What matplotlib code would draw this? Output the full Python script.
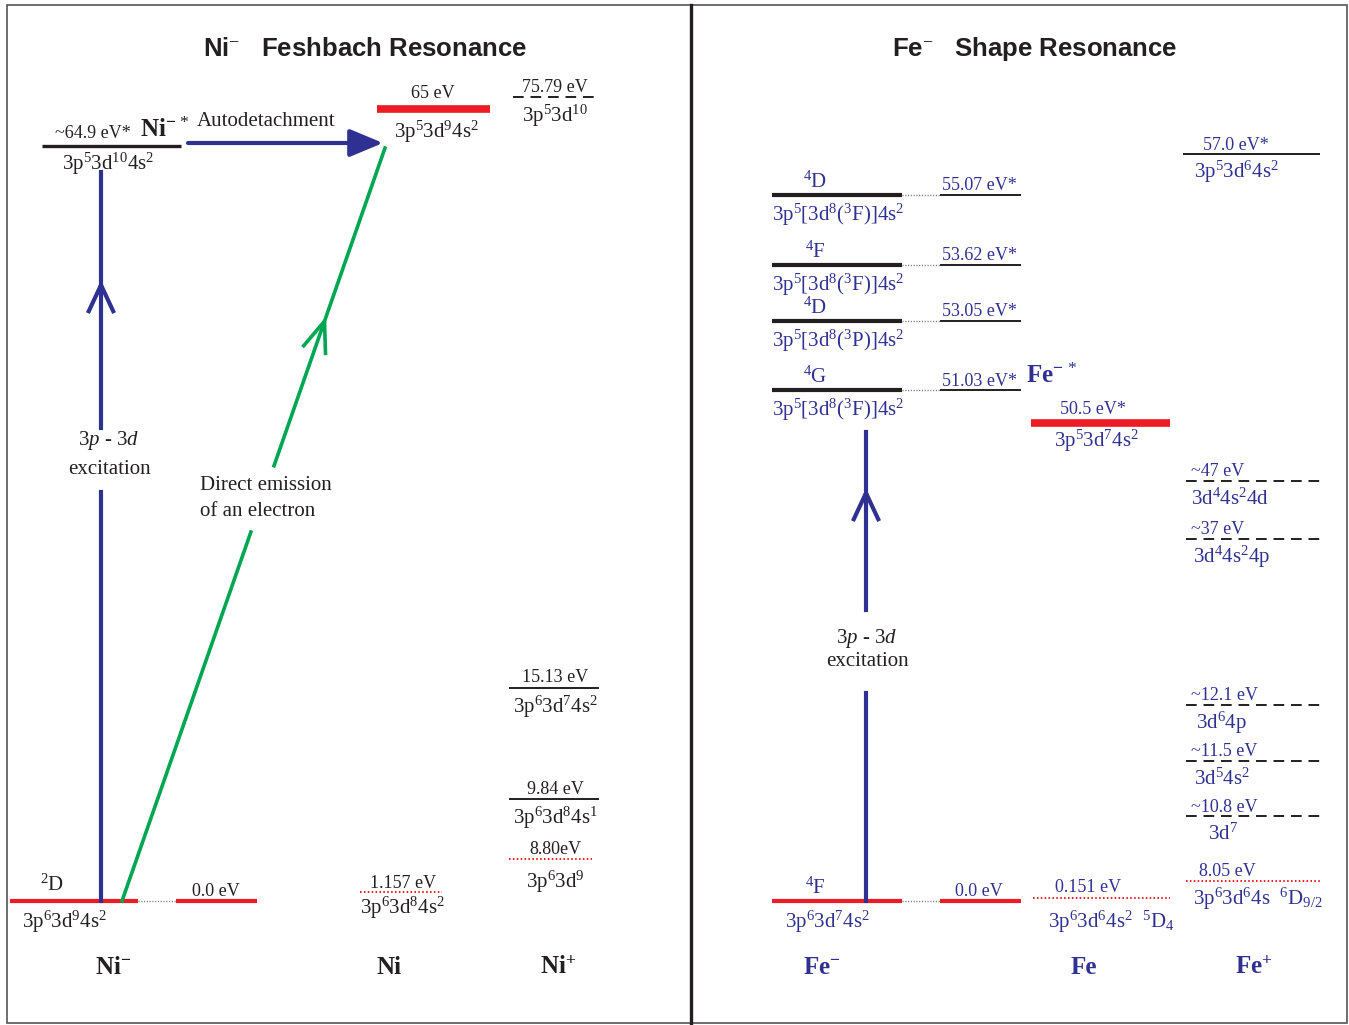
import numpy as np
import matplotlib
matplotlib.use('Agg')
import matplotlib.pyplot as plt
from matplotlib.patches import FancyArrowPatch, Rectangle

plt.rcParams['font.family'] = ['Liberation Serif', 'DejaVu Serif']
plt.rcParams['mathtext.fontset'] = 'custom'
plt.rcParams['mathtext.rm'] = 'Liberation Serif'
plt.rcParams['mathtext.it'] = 'Liberation Serif:italic'
plt.rcParams['mathtext.bf'] = 'Liberation Serif:bold'

BLUE = '#2E3192'
RED = '#ED1C24'
GREEN = '#00A651'
BLACK = '#231F20'

# ---- Ni- : Feshbach resonance ----
ni_anion_energy = ['~64.9 eV*', '0.0 eV']
ni_anion_config = ['3p$^5$3d$^{10}$4s$^2$', '3p$^6$3d$^9$4s$^2$']
ni_atom_energy = ['65 eV', '1.157 eV']
ni_atom_config = ['3p$^5$3d$^9$4s$^2$', '3p$^6$3d$^8$4s$^2$']
ni_ion_energy = ['75.79 eV', '15.13 eV', '9.84 eV', '8.80eV']
ni_ion_config = ['3p$^5$3d$^{10}$', '3p$^6$3d$^7$4s$^2$',
                 '3p$^6$3d$^8$4s$^1$', '3p$^6$3d$^9$']

# ---- Fe- : shape resonance ----
fe_anion_energy = ['55.07 eV*', '53.62 eV*', '53.05 eV*', '51.03 eV*', '0.0 eV']
fe_anion_term = ['$^4$D', '$^4$F', '$^4$D', '$^4$G', '$^4$F']
fe_anion_config = ['3p$^5$[3d$^8$($^3$F)]4s$^2$', '3p$^5$[3d$^8$($^3$F)]4s$^2$',
                   '3p$^5$[3d$^8$($^3$P)]4s$^2$', '3p$^5$[3d$^8$($^3$F)]4s$^2$',
                   '3p$^6$3d$^7$4s$^2$']
fe_atom_energy = ['50.5 eV*', '0.151 eV']
fe_atom_config = ['3p$^5$3d$^7$4s$^2$', '3p$^6$3d$^6$4s$^2$  $^5$D$_4$']
fe_ion_energy = ['57.0 eV*', '~47 eV', '~37 eV', '~12.1 eV', '~11.5 eV',
                 '~10.8 eV', '8.05 eV']
fe_ion_config = ['3p$^5$3d$^6$4s$^2$', '3d$^4$4s$^2$4d', '3d$^4$4s$^2$4p',
                 '3d$^6$4p', '3d$^5$4s$^2$', '3d$^7$', '3p$^6$3d$^6$4s  $^6$D$_{9/2}$']

# schematic heights of the levels (not to scale)
ni_anion_y = [146, 901]
ni_atom_y = [109, 892]
ni_ion_y = [97, 688, 799, 859]
fe_anion_y = [195, 265, 321, 390, 901]
fe_atom_y = [423, 898]
fe_ion_y = [154, 481, 539, 705, 761, 816, 881]

fig = plt.figure(figsize=(13.49, 10.25), dpi=100)
ax = fig.add_axes([0, 0, 1, 1])
ax.set_xlim(0, 1349)
ax.set_ylim(1025, 0)
ax.axis('off')

# frame and divider
ax.add_patch(Rectangle((7, 5), 1340, 1018, fill=False, ec='#555555', lw=1.2))
ax.plot([691, 691], [5, 1023], color=BLACK, lw=2.4)


def level(x0, x1, y, style, color=BLACK, lw=1.4):
    if style == 'dash':
        ax.plot([x0, x1], [y, y], color=color, lw=lw, ls=(0, (5.5, 3.5)))
    elif style == 'dot':
        ax.plot([x0, x1], [y, y], color=color, lw=lw, ls=(0, (0.8, 1.2)))
    else:
        ax.plot([x0, x1], [y, y], color=color, lw=lw, solid_capstyle='butt')


def txt(x, y, s, size=15, color=BLACK, **kw):
    kw.setdefault('ha', 'center')
    ax.text(x, y, s, fontsize=size, color=color, va='center', **kw)


def chevron(tip, direction, color, length=31, half=25, lw=3):
    d = np.array(direction, float)
    d /= np.linalg.norm(d)
    for s in (1, -1):
        a = np.deg2rad(s * half)
        r = np.array([[np.cos(a), -np.sin(a)], [np.sin(a), np.cos(a)]])
        b = -(r @ d) * length
        ax.plot([tip[0], tip[0] + b[0]], [tip[1], tip[1] + b[1]],
                color=color, lw=lw, solid_capstyle='butt')


# ================= Ni- panel =================
txt(365, 49, 'Ni$^{-}$   Feshbach Resonance', size=18.5, family='Liberation Sans',
    weight='bold')

# Ni- ground state and excited state
level(10, 138, ni_anion_y[1], 'solid', RED, 3)
level(138, 176, ni_anion_y[1], 'dot', '#777777', 1.0)
level(176, 257, ni_anion_y[1], 'solid', RED, 3)
txt(216, ni_anion_y[1] - 9, ni_anion_energy[1], 13)
txt(52, ni_anion_y[1] - 16, '$^2$D', 15)
txt(64, ni_anion_y[1] + 21, ni_anion_config[1], 15)

level(42, 181, ni_anion_y[0], 'solid', BLACK, 2.4)
txt(93, ni_anion_y[0] - 13, ni_anion_energy[0], 13)
txt(108, ni_anion_y[0] + 18, ni_anion_config[0], 15)
txt(165, ni_anion_y[0] - 16, 'Ni$^{\\mathbf{-}\\,*}$', 18, weight='bold')

# Ni atom
level(377, 490, ni_atom_y[0], 'solid', RED, 5.5)
txt(433, ni_atom_y[0] - 16, ni_atom_energy[0], 13)
txt(436, ni_atom_y[0] + 23, ni_atom_config[0], 15)
level(360, 442, ni_atom_y[1], 'dot', RED, 1.4)
txt(403, ni_atom_y[1] - 9, ni_atom_energy[1], 13)
txt(402, ni_atom_y[1] + 16, ni_atom_config[1], 15)

# Ni+ ion
ni_ion_style = ['dash', 'solid', 'solid', 'dot']
for i, y in enumerate(ni_ion_y):
    col = RED if ni_ion_style[i] == 'dot' else BLACK
    x0, x1 = (513, 600) if i == 0 else (509, 599 if i < 3 else 592)
    level(x0, x1, y, ni_ion_style[i], col, 1.4)
    txt(555, y - 10, ni_ion_energy[i], 13)
    txt(555, y + (23 if i == 3 else 19), ni_ion_config[i], 15)

# 3p-3d excitation
ax.plot([101, 101], [ni_anion_y[1], 492], color=BLUE, lw=3)
ax.plot([101, 101], [428, ni_anion_y[0] + 26], color=BLUE, lw=3)
chevron((101, 285), (0, -1), BLUE)
txt(109, 441, '3$\\mathit{p}$ - 3$\\mathit{d}$', 15)
txt(109, 469, 'excitation', 15)

# autodetachment
ax.add_patch(FancyArrowPatch((188, 143), (383, 143),
                             arrowstyle='-|>,head_length=1.2,head_width=0.5',
                             mutation_scale=17, color=BLUE, lw=3,
                             shrinkA=0, shrinkB=0))
txt(266, 121, 'Autodetachment', 15)

# direct emission
g0 = np.array([122, 901.0])
g1 = np.array([385, 148.0])
gv = g1 - g0
ax.plot([g0[0], g0[0] + gv[0] * 0.49], [g0[1], g0[1] + gv[1] * 0.49], color=GREEN, lw=2.6)
ax.plot([g0[0] + gv[0] * 0.578, g1[0]], [g0[1] + gv[1] * 0.578, g1[1]], color=GREEN, lw=2.6)
chevron(g0 + gv * 0.77, gv, GREEN, length=34, half=21, lw=2.6)
txt(200, 486, 'Direct emission', 15, ha='left')
txt(200, 512, 'of an electron', 15, ha='left')

txt(113, 967, 'Ni$^{\\mathbf{-}}$', 18, weight='bold')
txt(389, 967, 'Ni', 18, weight='bold')
txt(558, 967, 'Ni$^{\\mathbf{+}}$', 18, weight='bold')

# ================= Fe- panel =================
txt(1035, 49, 'Fe$^{-}$   Shape Resonance', size=18.5, family='Liberation Sans',
    weight='bold')

for i, y in enumerate(fe_anion_y):
    ground = i == len(fe_anion_y) - 1
    col = RED if ground else BLACK
    level(772, 902, y, 'solid', col, 3)
    level(902, 940, y, 'dot', '#777777', 1.0)
    level(940, 1021, y, 'solid', col, 3 if ground else 1.4)
    txt(979, y - 9, fe_anion_energy[i], 13, color=BLUE)
    txt(815, y - 13, fe_anion_term[i], 15, color=BLUE)
    txt(827 if ground else 838, y + 21 if ground else y + 20,
        fe_anion_config[i], 15, color=BLUE)

ax.plot([866, 866], [fe_anion_y[-1], 693], color=BLUE, lw=3)
ax.plot([866, 866], [610, 432], color=BLUE, lw=3)
chevron((866, 493), (0, -1), BLUE)
txt(867, 638, '3$\\mathit{p}$ - 3$\\mathit{d}$', 15)
txt(867, 662, 'excitation', 15)

# Fe atom
txt(1052, 376, 'Fe$^{\\mathbf{-}\\,*}$', 18, color=BLUE, weight='bold')
level(1031, 1170, fe_atom_y[0], 'solid', RED, 5.5)
txt(1093, fe_atom_y[0] - 13, fe_atom_energy[0], 13, color=BLUE)
txt(1096, fe_atom_y[0] + 18, fe_atom_config[0], 15, color=BLUE)
level(1033, 1170, fe_atom_y[1], 'dot', RED, 1.4)
txt(1088, fe_atom_y[1] - 11, fe_atom_energy[1], 13, color=BLUE)
txt(1048, fe_atom_y[1] + 24, fe_atom_config[1], 15, color=BLUE, ha='left')

# Fe+ ion
fe_ion_style = ['solid', 'dash', 'dash', 'dash', 'dash', 'dash', 'dot']
fe_ion_ex = [1203, 1191, 1191, 1191, 1191, 1191, 1199]
fe_ion_cx = [1194, 1191, 1193, 1196, 1194, 1208, 1193]
for i, y in enumerate(fe_ion_y):
    col = RED if fe_ion_style[i] == 'dot' else BLACK
    level(1183 if i == 0 else 1186, 1320, y, fe_ion_style[i], col, 1.4)
    txt(fe_ion_ex[i], y - 9, fe_ion_energy[i], 13, color=BLUE, ha='left')
    txt(fe_ion_cx[i], y + 18, fe_ion_config[i], 15, color=BLUE, ha='left')

txt(822, 967, 'Fe$^{\\mathbf{-}}$', 18, color=BLUE, weight='bold')
txt(1084, 967, 'Fe', 18, color=BLUE, weight='bold')
txt(1254, 967, 'Fe$^{\\mathbf{+}}$', 18, color=BLUE, weight='bold')

fig.savefig('out.png', dpi=100)
